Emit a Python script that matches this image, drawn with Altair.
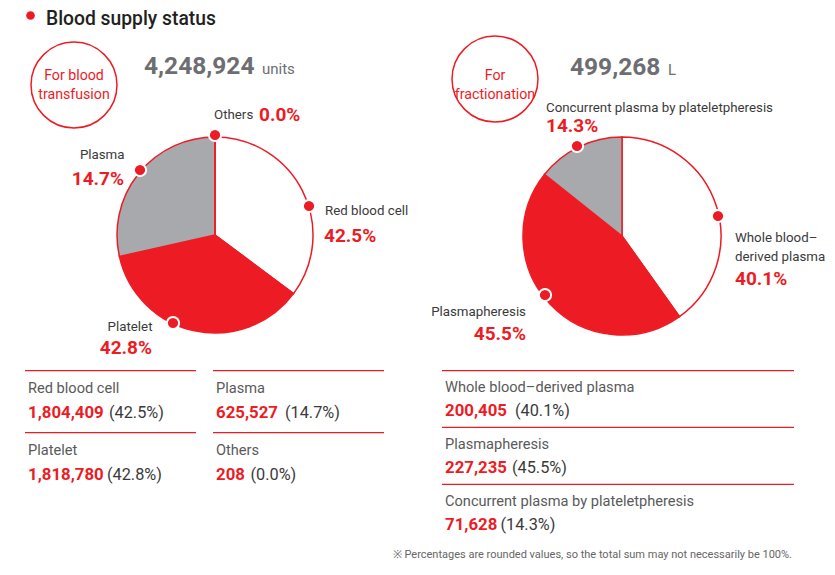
import altair as alt
import pandas as pd

# ---------------- data ----------------
title = "Blood supply status"

transfusion_total = "4,248,924"
transfusion_unit = "units"
transfusion_cats = ["Red blood cell", "Platelet", "Plasma", "Others"]
transfusion_values = ["1,804,409", "1,818,780", "625,527", "208"]
transfusion_pcts = ["42.5%", "42.8%", "14.7%", "0.0%"]
# wedge sizes as drawn in the reference pie (percent of the circle)
transfusion_drawn_share = [35.2, 36.3, 28.5, 0.0]

fraction_total = "499,268"
fraction_unit = "L"
fraction_cats = ["Whole blood–derived plasma", "Plasmapheresis",
                 "Concurrent plasma by plateletpheresis"]
fraction_values = ["200,405", "227,235", "71,628"]
fraction_share = [40.1, 45.5, 14.3]
fraction_pcts = ["40.1%", "45.5%", "14.3%"]

footnote = "※ Percentages are rounded values, so the total sum may not necessarily be 100%."

# ---------------- style ----------------
RED = "#ED1C24"
SLICE_GRAY = "#A7A9AC"
NUM_GRAY = "#6D6E71"
DARK = "#231F20"
LABEL = "#3A3A3A"
TABLE_LABEL = "#5A5A5A"
FONT = "Roboto"
OFF = 8  # page margin

W, H = 819, 559
PL = 13.3   # pie label size
PP = 19     # pie percent size


def X(v):
    return alt.value(v - OFF)


def text(x, y, s, size, color, weight="normal", align="left"):
    return alt.Chart(alt.Data(values=[{"t": s}])).mark_text(
        font=FONT, fontSize=size, color=color, fontWeight=weight,
        align=align, baseline="alphabetic"
    ).encode(text="t:N", x=X(x), y=X(y))


def dot(x, y):
    return alt.Chart(alt.Data(values=[{}])).mark_point(
        shape="circle", filled=True, fill=RED, stroke="white",
        strokeWidth=2, size=150, opacity=1
    ).encode(x=X(x), y=X(y))


def ring(x, y, r):
    return alt.Chart(alt.Data(values=[{}])).mark_point(
        shape="circle", filled=False, stroke=RED, strokeWidth=1.5,
        size=3.14159 * r * r, opacity=1
    ).encode(x=X(x), y=X(y))


def hline(x1, x2, y):
    return alt.Chart(alt.Data(values=[{}])).mark_rule(
        stroke=RED, strokeWidth=1.2
    ).encode(x=X(x1), x2=X(x2), y=X(y))


layers = []

# title
layers.append(alt.Chart(alt.Data(values=[{}])).mark_point(
    shape="circle", filled=True, fill=RED, size=75, opacity=1
).encode(x=X(30.5), y=X(15.5)))
layers.append(text(46, 25, title, 19.3, DARK, 500))

# left header
layers.append(ring(74, 85, 48.5))
layers.append(text(74, 80, "For blood", 14.2, RED, "normal", "center"))
layers.append(text(74, 98.5, "transfusion", 14.2, RED, "normal", "center"))
layers.append(text(144, 73.5, transfusion_total, 24.5, NUM_GRAY, "bold"))
layers.append(text(262, 73.5, transfusion_unit, 15, NUM_GRAY))

# right header
layers.append(ring(495, 79, 48.5))
layers.append(text(495, 80, "For", 14.2, RED, "normal", "center"))
layers.append(text(495, 98.5, "fractionation", 14.2, RED, "normal", "center"))
layers.append(text(570, 75, fraction_total, 24.5, NUM_GRAY, "bold"))
layers.append(text(668, 75, fraction_unit, 15, NUM_GRAY))

# pies
left_df = pd.DataFrame({
    "cat": transfusion_cats,
    "share": transfusion_drawn_share,
    "ord": list(range(len(transfusion_cats))),
})
left_pie = alt.Chart(left_df).mark_arc(
    outerRadius=98, stroke=RED, strokeWidth=1.5
).encode(
    theta=alt.Theta("share:Q", stack=True),
    order=alt.Order("ord:Q"),
    color=alt.Color("cat:N", legend=None, scale=alt.Scale(
        domain=transfusion_cats, range=["white", RED, SLICE_GRAY, SLICE_GRAY])),
    x=X(215), y=X(235),
)

right_df = pd.DataFrame({
    "cat": fraction_cats,
    "share": fraction_share,
    "ord": list(range(len(fraction_cats))),
})
right_pie = alt.Chart(right_df).mark_arc(
    outerRadius=99, stroke=RED, strokeWidth=1.5
).encode(
    theta=alt.Theta("share:Q", stack=True),
    order=alt.Order("ord:Q"),
    color=alt.Color("cat:N", legend=None, scale=alt.Scale(
        domain=fraction_cats, range=["white", RED, SLICE_GRAY])),
    x=X(622), y=X(236),
)

# pie dots
for (x, y) in [(215, 135), (309, 206), (140, 170), (173, 323)]:
    layers.append(dot(x, y))
for (x, y) in [(577, 146), (718, 216), (545, 295)]:
    layers.append(dot(x, y))

# left pie labels
layers.append(text(214, 118.5, transfusion_cats[3], PL, LABEL))
layers.append(text(259, 120.5, transfusion_pcts[3], PP, RED, "bold"))
layers.append(text(124.5, 158.5, transfusion_cats[2], PL, LABEL, "normal", "right"))
layers.append(text(124, 184.5, transfusion_pcts[2], PP, RED, "bold", "right"))
layers.append(text(325, 214.5, transfusion_cats[0], PL, LABEL))
layers.append(text(324, 242, transfusion_pcts[0], PP, RED, "bold"))
layers.append(text(152.5, 330.5, transfusion_cats[1], PL, LABEL, "normal", "right"))
layers.append(text(152, 354, transfusion_pcts[1], PP, RED, "bold", "right"))

# right pie labels
layers.append(text(546, 111.5, fraction_cats[2], PL, LABEL))
layers.append(text(546, 132, fraction_pcts[2], PP, RED, "bold"))
layers.append(text(735, 242, "Whole blood–", PL, LABEL))
layers.append(text(735, 260.5, "derived plasma", PL, LABEL))
layers.append(text(735, 284.5, fraction_pcts[0], PP, RED, "bold"))
layers.append(text(526, 315.5, fraction_cats[1], PL, LABEL, "normal", "right"))
layers.append(text(526, 339.5, fraction_pcts[1], PP, RED, "bold", "right"))

# left table
left_cells = [  # (x, line_y, label_idx, pct_x)
    (25, 370.7, 0, 109),
    (25, 432.7, 1, 107),
    (213, 370.7, 2, 285),
    (213, 432.7, 3, 250.5),
]
for (x0, ly, i, px) in left_cells:
    layers.append(hline(x0, x0 + 171, ly))
    layers.append(text(x0 + 3, ly + 22.7, transfusion_cats[i], 14.6, TABLE_LABEL))
    layers.append(text(x0 + 3, ly + 47, transfusion_values[i], 16.8, RED, "bold"))
    layers.append(text(px, ly + 47, "(" + transfusion_pcts[i] + ")", 16.3, LABEL))

# right table
right_cells = [(370.7, 0, 515), (427.3, 1, 512), (484.3, 2, 500.5)]
for (ly, i, px) in right_cells:
    layers.append(hline(442, 794, ly))
    layers.append(text(445, ly + 21.5, fraction_cats[i], 14.6, TABLE_LABEL))
    layers.append(text(445, ly + 45.7, fraction_values[i], 16.8, RED, "bold"))
    layers.append(text(px, ly + 45.7, "(" + fraction_pcts[i] + ")", 16.3, LABEL))

layers.append(text(792, 558, footnote, 11, "#666666", "normal", "right"))

chart = alt.layer(left_pie, right_pie, *layers).resolve_scale(
    theta="independent", color="independent"
).properties(
    width=W, height=H, padding=0,
    autosize=alt.AutoSizeParams(type="none"),
    background="white",
).configure_view(stroke=None)

chart.save("out.html", embed_options={"renderer": "svg", "actions": False})
